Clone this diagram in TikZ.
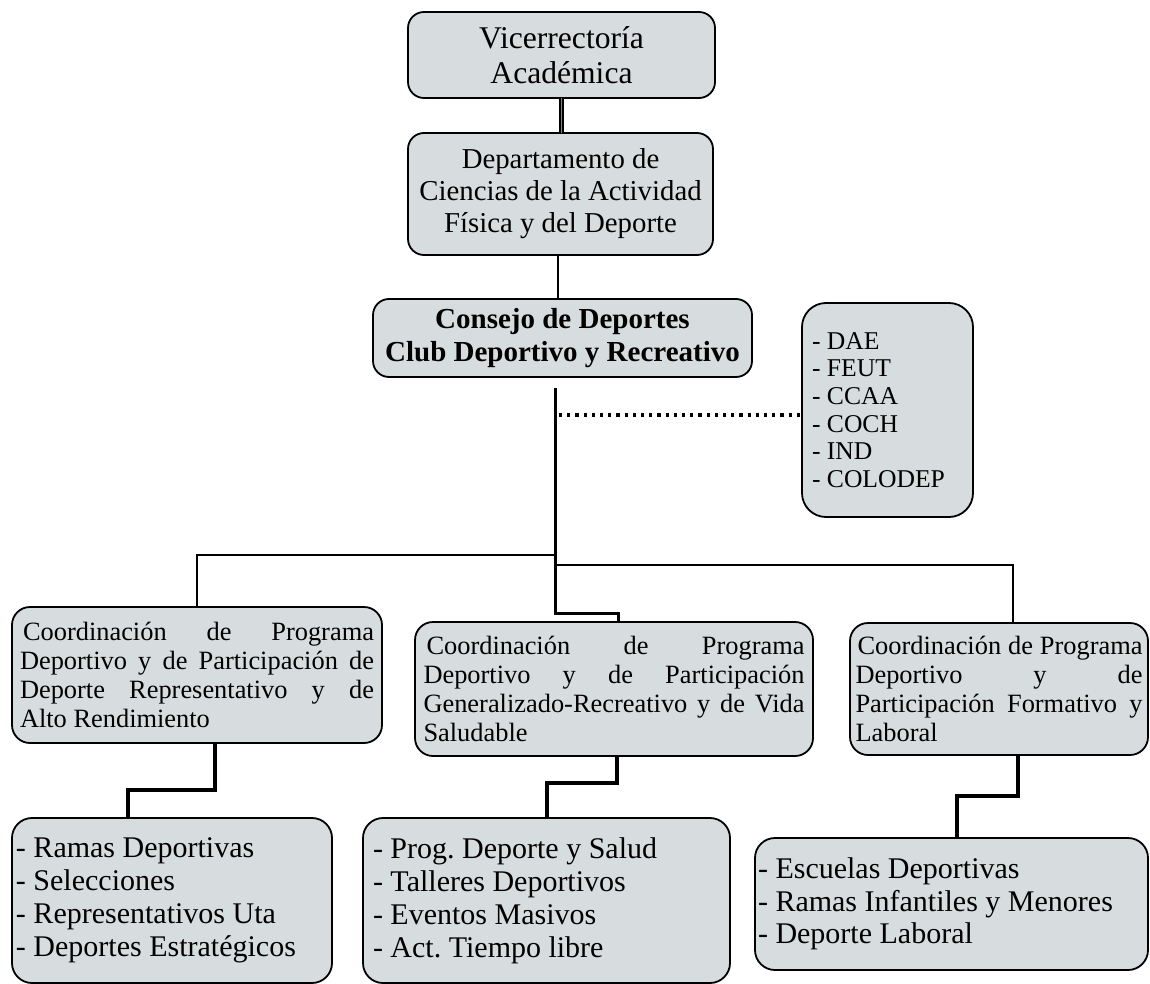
\documentclass[tikz,border=0pt]{standalone}
\usepackage{fontspec}
\setmainfont{Liberation Serif}
\usetikzlibrary{calc}
\definecolor{boxfill}{RGB}{215,221,222}
\newcommand\jline[2]{{\spaceskip=0pt\xspaceskip=0pt\makebox[#1][s]{#2}}}
\frenchspacing
\begin{document}
\begin{tikzpicture}[x=0.5pt,y=-0.5pt,
  box/.style={draw=black,line width=0.9pt,fill=boxfill,rounded corners=8pt,inner sep=0pt,outer sep=0pt},
  conn/.style={line width=1.2pt},
  trunk/.style={line width=1.5pt},
  thickconn/.style={line width=2pt},
  dots/.style={line width=1.6pt,dash pattern=on 1.6pt off 2.5pt},
  dbl/.style={line width=0.7pt,double=gray,double distance=0.9pt},
  cfont/.style={font=\fontsize{13.2}{14.4}\selectfont},
  bfont/.style={font=\fontsize{15}{16.5}\selectfont}]
\useasboundingbox (0,0) rectangle (1150,984);

\node[box,minimum width=153.5pt,minimum height=43pt,align=center,
  font=\fontsize{15.8}{17.5}\selectfont] (vice) at (561.5,55) {Vicerrectoría\\Académica};
\node[box,minimum width=152.5pt,minimum height=61pt,align=center,
  font=\fontsize{14.4}{16}\selectfont] (dept) at (560.5,194)
  {Departamento de\\Ciencias de la Actividad\\Física y del Deporte};
\node[box,minimum width=189.5pt,minimum height=39pt,align=center,
  font=\bfseries\fontsize{14.5}{16.5}\selectfont] (cons) at (562.5,338)
  {Consejo de Deportes\\Club Deportivo y Recreativo};
\node[box,rounded corners=12pt,text width=75.5pt,inner xsep=5pt,minimum height=107pt,align=flush left,
  font=\fontsize{12.8}{13.85}\selectfont] (dae) at (887.5,410)
  {- DAE\\- FEUT\\- CCAA\\- COCH\\- IND\\- COLODEP};

\node[box,rounded corners=9pt,text width=177pt,inner xsep=4pt,minimum height=68pt,align=flush left,cfont] (c1) at (197,675)
  {\jline{177pt}{\hspace{1.5pt}Coordinación de Programa}\\
   \jline{177pt}{Deportivo y de Participación de}\\
   \jline{177pt}{Deporte Representativo y de}\\
   Alto Rendimiento};
\node[box,rounded corners=9pt,text width=190.5pt,inner xsep=4.25pt,minimum height=67pt,align=flush left,cfont] (c2) at (614,689)
  {\jline{190.5pt}{\hspace{1.5pt}Coordinación de Programa}\\
   \jline{190.5pt}{Deportivo y de Participación}\\
   \jline{190.5pt}{Generalizado-Recreativo y de Vida}\\
   Saludable};
\node[box,rounded corners=9pt,text width=143.5pt,inner xsep=2.75pt,minimum height=66pt,align=flush left,cfont] (c3) at (999,689)
  {\jline{143.5pt}{\hspace{1pt}Coordinación de Programa}\\
   \jline{143.5pt}{Deportivo y de}\\
   \jline{143.5pt}{Participación Formativo y}\\
   Laboral};

\node[box,rounded corners=10pt,text width=156pt,inner xsep=2pt,minimum height=82.5pt,align=flush left,bfont] (b1) at (172,900.5)
  {- Ramas Deportivas\\- Selecciones\\- Representativos Uta\\- Deportes Estratégicos};
\node[box,rounded corners=10pt,text width=173.5pt,inner xsep=5pt,minimum height=82.5pt,align=flush left,bfont] (b2) at (546.5,900.5)
  {- Prog. Deporte y Salud\\- Talleres Deportivos\\- Eventos Masivos\\- Act. Tiempo libre};
\node[box,rounded corners=10pt,text width=193.5pt,inner xsep=1.5pt,minimum height=66pt,align=flush left,
  font=\fontsize{15}{16.25}\selectfont] (b3) at (951.5,904)
  {- Escuelas Deportivas\\- Ramas Infantiles y Menores\\- Deporte Laboral};

% connectors
\draw[dbl] (vice.south) -- (vice.south |- dept.north);
\draw[conn] ($(dept.south)+(-2.5,0)$) -- ($(dept.south |- cons.north)+(-2.5,0)$);
\coordinate (t0) at ($(cons.south)+(-7.5,11)$);
\draw[trunk] (t0) -- ++(0,225) -| ($(c2.north)+(4,0)$);
\draw[conn] ($(t0)+(0,167)$) -| (c1.north);
\draw[conn] ($(t0)+(0,177)$) -| ($(c3.north)+(14,0)$);
\coordinate (d0) at ($(t0)+(4,27)$);
\draw[dots] (d0) -- (d0 -| dae.west);

\draw[thickconn] ($(c1.south)+(18,0)$) -- ++(0,47) -| ($(b1.north)+(-44,0)$);
\draw[thickconn] ($(c2.south)+(3,0)$) -- ++(0,27) -| ($(b2.north)+(0.5,0)$);
\draw[thickconn] ($(c3.south)+(19,0)$) -- ++(0,41) -| ($(b3.north)+(5.5,0)$);
\end{tikzpicture}
\end{document}
